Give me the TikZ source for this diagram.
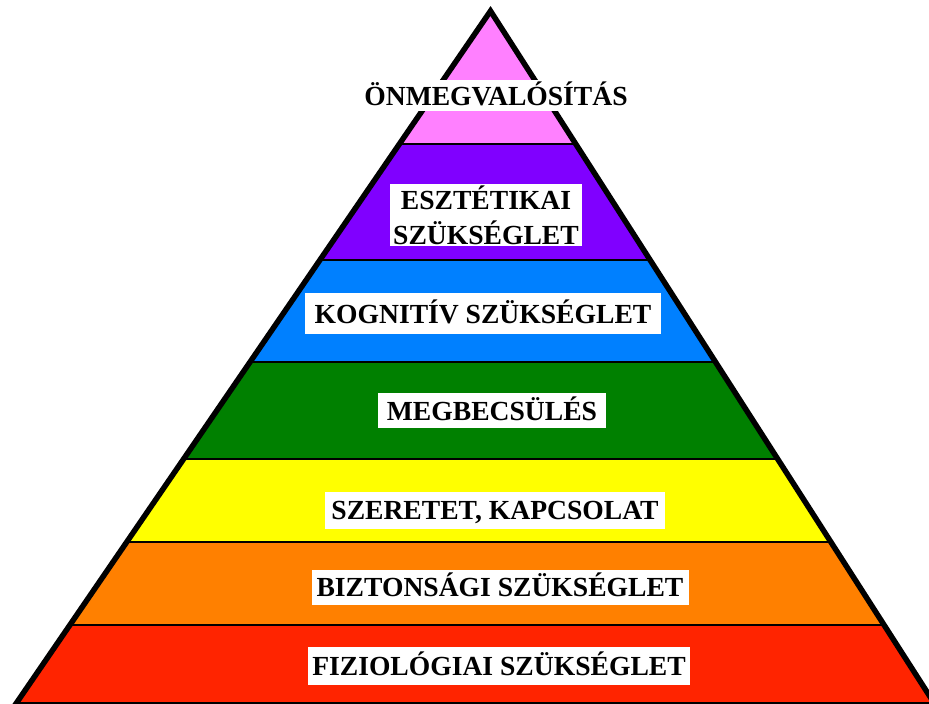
\documentclass[tikz,border=0pt]{standalone}
\usepackage{fontspec}
\setmainfont{Liberation Serif}
\definecolor{cpink}{RGB}{255,128,255}
\definecolor{cpurple}{RGB}{128,0,255}
\definecolor{cblue}{RGB}{0,128,255}
\definecolor{cgreen}{RGB}{0,128,0}
\definecolor{cyellow}{RGB}{255,255,0}
\definecolor{corange}{RGB}{255,128,0}
\definecolor{cred}{RGB}{255,36,0}
\begin{document}
\begin{tikzpicture}[x=1pt,y=-1pt,
  lblbase/.style={fill=white, inner sep=0pt, font=\bfseries\fontsize{27.6}{35}\selectfont},
  lbl/.style={lblbase, text height=20pt, text depth=1pt},
  band/.style={line width=2.5pt},
  edge/.style={line width=5.5pt, line join=miter}]
\useasboundingbox (0,0) rectangle (929,704);
\coordinate (apex) at (490.5,11);
\coordinate (bl) at (14.4,706);
\coordinate (br) at (936,706);
\begin{scope}
  \clip (apex) -- (bl) -- (br) -- cycle;
  \fill[cpink]   (0,0)   rectangle (940,144);
  \fill[cpurple] (0,144) rectangle (940,260);
  \fill[cblue]   (0,260) rectangle (940,362);
  \fill[cgreen]  (0,362) rectangle (940,459);
  \fill[cyellow] (0,459) rectangle (940,542);
  \fill[corange] (0,542) rectangle (940,625);
  \fill[cred]    (0,625) rectangle (940,710);
  \foreach \y in {144,260,362,459,542,625,703}
    \draw[band] (0,\y) -- (940,\y);
\end{scope}
\draw[edge] (bl) -- (apex) -- (br);
\node[lbl, minimum width=277pt, minimum height=31pt] (l1) at (496,95.5) {ÖNMEGVALÓSÍTÁS};
\node[lblbase, align=center, minimum width=192pt, minimum height=62pt] (l2) at (486,215) {ESZTÉTIKAI\\SZÜKSÉGLET};
\node[lbl, minimum width=356pt, minimum height=41pt] (l3) at (483,313.5) {KOGNITÍV SZÜKSÉGLET};
\node[lbl, minimum width=228pt, minimum height=35pt] (l4) at (492,410.5) {MEGBECSÜLÉS};
\node[lbl, minimum width=340pt, minimum height=37pt] (l5) at (495,510) {SZERETET, KAPCSOLAT};
\node[lbl, minimum width=377pt, minimum height=35pt] (l6) at (500,587) {BIZTONSÁGI SZÜKSÉGLET};
\node[lbl, minimum width=382pt, minimum height=38pt] (l7) at (499,665.5) {FIZIOLÓGIAI SZÜKSÉGLET};
\end{tikzpicture}
\end{document}
